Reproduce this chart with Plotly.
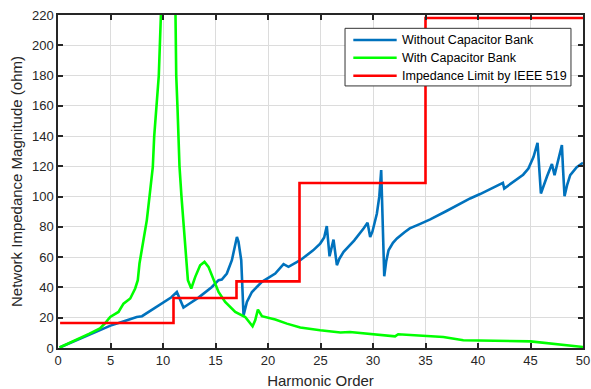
import plotly.graph_objects as go

# Harmonic impedance sweep (harmonic order vs |Z| in ohm)
h_without = [0.15, 2.0, 4.0, 5.0, 6.5, 7.5, 8.0, 9.0, 10.2, 10.8, 11.32, 11.64, 11.95,
             12.43, 13.38, 14.66, 15.29, 15.6, 16.08, 16.56, 16.81, 17.04, 17.19, 17.45,
             17.67, 17.99, 18.47, 19.42, 20.69, 21.48, 21.95, 22.6, 23.07, 24.3, 24.97,
             25.35, 25.6, 25.86, 26.1, 26.24, 26.56, 26.8, 27.2, 28.2, 29.1, 29.48, 29.73,
             29.95, 30.37, 30.6, 30.78, 30.9, 31.07, 31.25, 31.48, 31.9, 32.28, 33.0, 33.5,
             34.5, 35.45, 37.0, 39.25, 40.2, 41.95, 42.37, 42.5, 43.7, 44.3, 44.8, 45.29,
             45.67, 45.85, 45.99, 46.56, 47.04, 47.29, 47.99, 48.1, 48.24, 48.5, 48.78,
             49.4, 50.0]
z_without = [0.3, 5.8, 11.5, 14.8, 18.2, 20.5, 21.0, 25.5, 30.4, 33.5, 37.0, 31.5, 26.7,
             28.9, 33.3, 40.3, 44.8, 45.2, 49.2, 58.0, 66.8, 73.4, 70.1, 58.0,
             21.6, 30.4, 37.0, 43.7, 49.2, 55.4, 53.6, 56.2, 58.0, 64.5, 69.0,
             73.0, 80.5, 60.6, 67.0, 71.6, 54.7, 59.0, 63.5, 71.0, 78.9, 82.7, 73.4,
             77.0, 88.9, 100.0, 117.5, 85.0, 47.4, 57.0, 64.6, 69.5, 72.4, 76.5, 79.0,
             82.0, 85.0, 90.5, 98.8, 101.7, 107.6, 109.1, 105.4, 111.4, 114.5, 118.6, 126.3,
             135.6, 118.0, 102.1, 113.1, 121.5, 114.2, 134.1, 118.0, 100.3, 108.0, 114.2,
             119.5, 122.4]

h_with = [0.15, 1.5, 3.0, 4.0, 4.5, 4.97, 5.76, 6.24, 6.88, 7.35, 7.6, 7.76, 7.99, 8.24,
          8.46, 8.71, 9.03, 9.16, 9.35, 9.6, 9.8, 10.2, 10.6, 11.0, 11.19, 11.26, 11.38,
          11.57, 11.76, 11.95, 12.18, 12.37, 12.69, 13.07, 13.54, 13.95, 14.33, 14.81,
          15.29, 15.92, 16.88, 17.83, 18.53, 18.78, 19.04, 19.42, 20.69, 21.8, 22.6,
          23.07, 24.97, 26.9, 27.8, 29.7, 32.1, 32.4, 36.7, 38.6, 45.0, 50.0]
z_with = [0.3, 4.5, 9.5, 13.0, 16.5, 20.5, 23.8, 29.3, 32.7, 39.3, 44.8, 55.8, 64.6, 73.4,
          84.5, 99.9, 119.7, 139.6, 159.4, 180.0, 220.0, 320.0, 420.0, 330.0, 220.0, 180.0,
          159.0, 120.0, 100.0, 84.5, 62.4, 44.8, 39.3, 47.0, 54.7, 56.9, 53.6, 44.8,
          37.0, 30.4, 23.8, 20.5, 14.4, 18.3, 25.4, 21.0, 18.8, 16.1, 14.4,
          13.5, 11.7, 10.2, 10.6, 9.1, 7.7, 9.1, 7.3, 5.1, 4.4, 0.7]

# IEEE 519 impedance limit (stepwise by harmonic band)
h_limit = [0.2, 11.0, 11.0, 17.0, 17.0, 23.0, 23.0, 35.0, 35.0, 50.0]
z_limit = [16.5, 16.5, 33.0, 33.0, 44.0, 44.0, 109.0, 109.0, 218.0, 218.0]

series_names = ["Without Capacitor Bank", "With Capacitor Bank", "Impedance Limit by IEEE 519"]
series_colors = ["#0072BD", "#00FF00", "#FF0000"]

font_family = "Liberation Sans, Arial, sans-serif"
text_color = "#262626"

fig = go.Figure()
for hx, zy, name, color in zip([h_without, h_with, h_limit],
                               [z_without, z_with, z_limit],
                               series_names, series_colors):
    fig.add_trace(go.Scatter(x=hx, y=zy, mode="lines", name=name,
                             line=dict(color=color, width=2.6)))

# Boxed legend in the upper right of the axes
shapes = [dict(type="rect", xref="paper", yref="paper",
               x0=0.5467, x1=0.9771, y0=0.787, y1=0.960,
               line=dict(color="#333333", width=1), fillcolor="white", layer="above")]
annotations = []
row_y = [0.9249, 0.8718, 0.8177]
for yy, name, color in zip(row_y, series_names, series_colors):
    shapes.append(dict(type="line", xref="paper", yref="paper",
                       x0=0.5625, x1=0.6451, y0=yy, y1=yy,
                       line=dict(color=color, width=2.6), layer="above"))
    annotations.append(dict(xref="paper", yref="paper", x=0.6514, y=yy,
                            xanchor="left", yanchor="middle", text=name,
                            showarrow=False,
                            font=dict(family=font_family, size=12.5, color="#000000")))

axis_common = dict(
    showline=True, linecolor=text_color, linewidth=1.5, mirror="ticks",
    ticks="inside", ticklen=5, tickwidth=1.5, tickcolor=text_color,
    showgrid=True, gridcolor="#DCDCDC", gridwidth=1, zeroline=False,
    automargin=False,
    tickfont=dict(family=font_family, size=13, color=text_color),
)

fig.update_layout(
    width=591, height=389,
    margin=dict(l=58, r=8, t=15, b=41),
    paper_bgcolor="white", plot_bgcolor="white",
    font=dict(family=font_family, color=text_color),
    xaxis=dict(range=[0, 50], dtick=5,
               title=dict(text="Harmonic Order", standoff=8,
                          font=dict(family=font_family, size=15, color=text_color)),
               **axis_common),
    yaxis=dict(range=[0, 220], dtick=20,
               title=dict(text="Network Impedance Magnitude (ohm)", standoff=6,
                          font=dict(family=font_family, size=15, color=text_color)),
               **axis_common),
    shapes=shapes,
    annotations=annotations,
    showlegend=False,
)

fig.write_html("out.html")
